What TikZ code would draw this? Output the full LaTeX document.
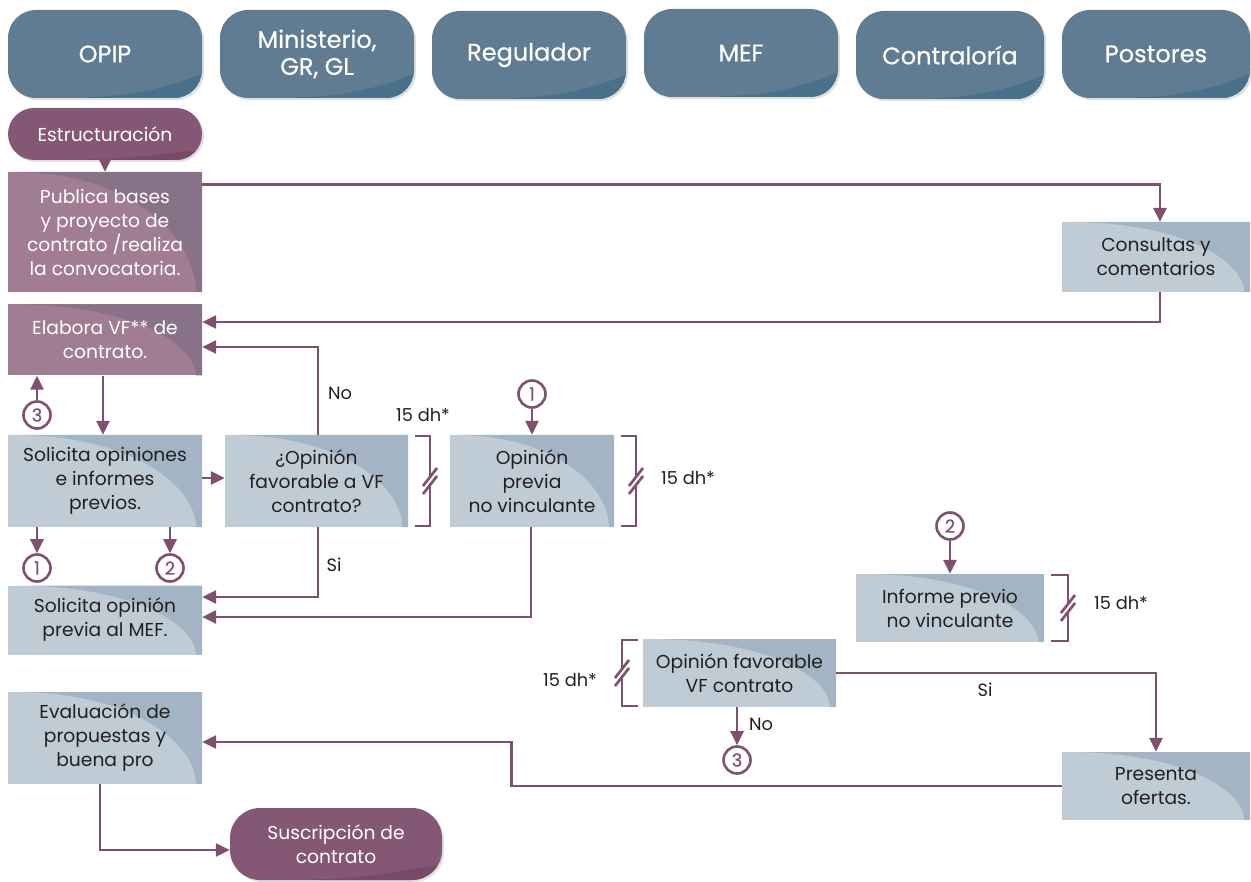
\documentclass[tikz,border=0pt]{standalone}
\usepackage{fontspec}
\setmainfont{Poppins}
\newfontfamily\hdrfont[FakeBold=0.6]{Poppins}
\usetikzlibrary{arrows.meta,calc,shadows}

\definecolor{hdrc}{HTML}{5F7C93}
\definecolor{hdrd}{HTML}{4A718C}
\definecolor{pillc}{HTML}{845874}
\definecolor{pilld}{HTML}{774A68}
\definecolor{plc}{HTML}{A17D94}
\definecolor{pld}{HTML}{887287}
\definecolor{blc}{HTML}{BFCCD6}
\definecolor{bld}{HTML}{A3B5C4}
\definecolor{lnc}{HTML}{80506F}
\definecolor{txc}{HTML}{231F20}

% darker sweep in the upper right part of a box
\newcommand\topsweep[1]{%
  \fill[#1] let \p1=(path picture bounding box.north west),
                \p2=(path picture bounding box.south east) in
    ({\x1+0.04*(\x2-\x1)},\y1) .. controls ({\x1+0.60*(\x2-\x1)},\y1)
      and ({\x2-0.04*(\x2-\x1)},{\y2+0.50*(\y1-\y2)}) ..
    ({\x2-0.03*(\x2-\x1)},\y2) -- (\x2,\y2) -- (\x2,\y1) -- cycle;}
% darker sweep in the lower right part of a rounded box
\newcommand\lowsweep[1]{%
  \fill[#1] let \p1=(path picture bounding box.north west),
                \p2=(path picture bounding box.south east) in
    ({\x1+0.30*(\x2-\x1)},\y2) .. controls ({\x1+0.80*(\x2-\x1)},{\y2+0.04*(\y1-\y2)})
      and (\x2,{\y2+0.30*(\y1-\y2)}) ..
    (\x2,{\y2+0.58*(\y1-\y2)}) -- (\x2,\y2) -- cycle;}

% bracket with a time break, #1 inner x, #2 outer x, #3 top y, #4 bottom y
\newcommand\dhbracket[4]{%
  \pgfmathsetmacro\ymid{(#3+#4)/2}
  \draw[brk] (#1,#3) -- (#2,#3) -- (#2,\ymid-4);
  \draw[brk] (#2,\ymid+4) -- (#2,#4) -- (#1,#4);
  \draw[brk] (#2-7,\ymid+5) -- (#2+7,\ymid-13);
  \draw[brk] (#2-7,\ymid+13) -- (#2+7,\ymid-5);}

\tikzset{
  txt/.style={font=\fontsize{18.7}{24}\selectfont, align=center},
  hdr/.style={rounded corners=28pt, fill=hdrc, minimum width=#1, minimum height=88pt,
    inner sep=0pt, text=white, font=\hdrfont\fontsize{24}{27}\selectfont, align=center,
    drop shadow={opacity=0.25, shadow xshift=2pt, shadow yshift=-2pt},
    path picture={\lowsweep{hdrd}}},
  hdr/.default=194pt,
  pill/.style={rounded corners=#1, fill=pillc, text=white, txt, inner sep=0pt,
    drop shadow={opacity=0.25, shadow xshift=2pt, shadow yshift=-2pt},
    path picture={\lowsweep{pilld}}},
  pbox/.style={fill=plc, text=white, txt, inner sep=0pt, path picture={\topsweep{pld}}},
  bbox/.style={fill=blc, text=txc, txt, inner sep=0pt, path picture={\topsweep{bld}}},
  num/.style={circle, draw=lnc, line width=2.6pt, minimum size=27pt, inner sep=0pt,
    text=lnc, font=\hdrfont\fontsize{18}{18}\selectfont},
  arr/.style={draw=lnc, line width=2.7pt, -{Triangle[length=14pt,width=13pt]}},
  brk/.style={draw=lnc, line width=2.7pt},
  lbl/.style={text=txc, font=\fontsize{17.8}{20}\selectfont, inner sep=0pt}
}

\begin{document}
\begin{tikzpicture}[x=1pt,y=-1pt]
\useasboundingbox (0,0) rectangle (1251,882);

% column headers
\node[hdr] (opip) at (105,54) {OPIP};
\node[hdr] (mini) at (317,54) {Ministerio,\\GR, GL};
\node[hdr] (regu) at (529,55) {Regulador};
\node[hdr] (mef)  at (741,53) {MEF};
\node[hdr=188pt] (cont) at (950,55) {Contraloría};
\node[hdr=188pt] (post) at (1156,54) {Postores};

% process steps
\node[pill=26pt, minimum width=194pt, minimum height=52pt] (estr) at (105,134) {Estructuración};
\node[pbox, minimum width=194pt, minimum height=120pt] (pub) at (105,232)
  {Publica bases\\y proyecto de\\contrato /realiza\\la convocatoria.};
\node[bbox, minimum width=188pt, minimum height=70pt] (cons) at (1156,257) {Consultas y\\comentarios};
\node[pbox, minimum width=194pt, minimum height=71pt] (elab) at (105,340) {Elabora VF** de\\contrato.};
\node[bbox, minimum width=194pt, minimum height=92pt] (sol) at (105,481)
  {Solicita opiniones\\e informes\\previos.};
\node[bbox, minimum width=183pt, minimum height=92pt] (opq) at (316.5,481)
  {¿Opinión\\favorable a VF\\contrato?};
\node[bbox, minimum width=164pt, minimum height=92pt] (opp) at (532,481)
  {Opinión\\previa\\no vinculante};
\node[bbox, minimum width=194pt, minimum height=69pt] (smef) at (105,620)
  {Solicita opinión\\previa al MEF.};
\node[bbox, minimum width=188pt, minimum height=68pt] (inf) at (950,608)
  {Informe previo\\no vinculante};
\node[bbox, minimum width=193pt, minimum height=68pt] (ofav) at (739.5,673)
  {Opinión favorable\\VF contrato};
\node[bbox, minimum width=188pt, minimum height=68pt] (pres) at (1156,786)
  {Presenta\\ofertas.};
\node[bbox, minimum width=194pt, minimum height=92pt] (eval) at (105,738)
  {Evaluación de\\propuestas y\\buena pro};
\node[pill=30pt, minimum width=212pt, minimum height=72pt] (susc) at (336,844)
  {Suscripción de\\contrato};

% connector markers
\node[num] (c3a) at (37,415) {3};
\node[num] (c1a) at (37,568) {1};
\node[num] (c2a) at (170,568) {2};
\node[num] (c1b) at (532,394) {1};
\node[num] (c2b) at (950,526) {2};
\node[num] (c3b) at (737,760) {3};

% flow
\draw[arr] (estr.south) -- (pub.north);
\draw[arr] ($(pub.north east)+(0,13)$) -| ($(cons.north)+(4,0)$);
\draw[arr] ($(cons.south)+(4,0)$) |- ($(elab.east)+(0,-18)$);
\draw[arr] ($(opq.north)+(1.5,0)$) |- ($(elab.east)+(0,7)$);
\draw[arr] ($(elab.south)+(-2,0)$) -- ($(sol.north)+(-2,0)$);
\draw[arr] (c3a) -- (c3a |- elab.south);
\draw[arr] ($(sol.east)+(0,-3)$) -- ($(opq.west)+(0,-3)$);
\draw[arr] (c1a |- sol.south) -- (c1a);
\draw[arr] (c2a |- sol.south) -- (c2a);
\draw[arr] ($(opq.south)+(1.5,0)$) |- ($(smef.east)+(0,-23)$);
\draw[arr] ($(opp.south)+(-1,0)$) |- ($(smef.east)+(0,-3)$);
\draw[arr] (c1b) -- (opp.north);
\draw[arr] (c2b) -- (inf.north);
\draw[arr] (ofav.east) -| (pres.north);
\draw[arr] (ofav.south -| c3b) -- (c3b);
\draw[arr] (pres.west) -- ++(-550,0) |- ($(eval.east)+(0,4)$);
\draw[arr] ($(eval.south)+(-5,0)$) |- ($(susc.west)+(0,6)$);

% labels
\node[lbl] (lno1) at (340,393) {No};
\node[lbl] (lsi1) at (334,565) {Si};
\node[lbl] (lsi2) at (985,690) {Si};
\node[lbl] (lno2) at (761,724) {No};
\node[lbl] (dh1) at (423,415) {15 dh*};
\node[lbl] (dh2) at (688,478) {15 dh*};
\node[lbl] (dh3) at (1121,603) {15 dh*};
\node[lbl] (dh4) at (570,680) {15 dh*};

% waiting-time brackets
\dhbracket{415}{430}{436}{526}
\dhbracket{621}{636}{436}{526}
\dhbracket{1051}{1068}{575}{641}
\dhbracket{638}{622}{640}{706}
\end{tikzpicture}
\end{document}
